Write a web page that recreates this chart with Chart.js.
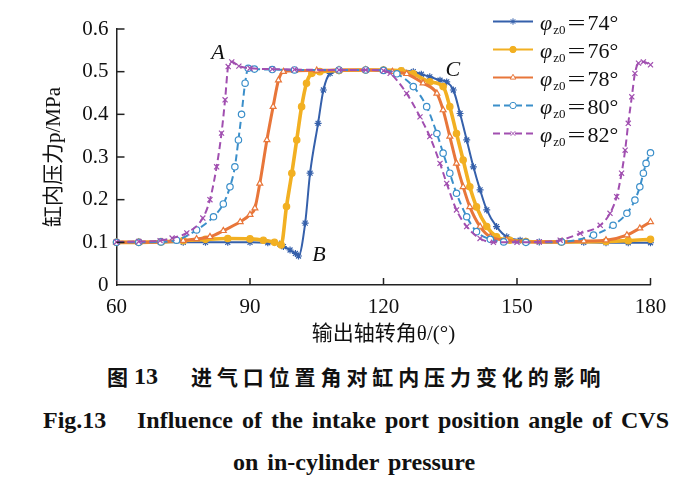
<!DOCTYPE html>
<html>
<head>
<meta charset="utf-8">
<script src="https://cdn.jsdelivr.net/npm/chart.js@4.4.1/dist/chart.umd.min.js"></script>
<style>
  html, body { margin:0; padding:0; background:#fff; }
  #wrap { position:relative; width:700px; height:478px; overflow:hidden; background:#fff; }
  #cv { position:absolute; left:0; top:0; }
  .cap { position:absolute; white-space:nowrap; color:#111; }
  .zh { font-family:'Noto Sans CJK SC', sans-serif; font-weight:700; font-size:21px; line-height:21px; }
  .en { font-family:'Liberation Serif', 'Times New Roman', serif; font-weight:700; font-size:24px; line-height:24px; }
</style>
</head>
<body>
<div id="wrap">
  <canvas id="cv" width="700" height="350"></canvas>
  <div class="cap zh" style="left:107px; top:366px;">图</div>
  <div class="cap en" style="left:134px; top:364px;">13</div>
  <div class="cap zh" style="left:191px; top:366px; letter-spacing:4.9px;">进气口位置角对缸内压力变化的影响</div>
  <div class="cap en" style="left:43px; top:408px;">Fig.13</div>
  <div class="cap en" style="left:137px; top:408px; word-spacing:3px;">Influence of the intake port position angle of CVS</div>
  <div class="cap en" style="left:233px; top:450px; word-spacing:3px;">on in-cylinder pressure</div>
</div>
<script>
// ---------- data ----------
const legendAngles = [74, 76, 78, 80, 82];

const theta74 = [60, 65, 70, 75, 80, 85, 90, 94, 96.7, 97.5, 99, 100.2, 100.9, 102.4, 103.5, 105.3, 106.5, 108, 110, 116, 120, 124, 126.7, 128.5, 130.4, 132.7, 134.2, 135.7, 137.2, 138.7, 140.2, 141.7, 143.2, 145.4, 147.7, 150.7, 155, 160, 165, 170, 175, 180];
const p74     = [0.100, 0.100, 0.100, 0.100, 0.100, 0.100, 0.100, 0.099, 0.096, 0.090, 0.082, 0.074, 0.068, 0.145, 0.262, 0.379, 0.457, 0.496, 0.502, 0.504, 0.504, 0.503, 0.500, 0.494, 0.488, 0.480, 0.476, 0.457, 0.402, 0.340, 0.277, 0.223, 0.176, 0.137, 0.113, 0.105, 0.101, 0.100, 0.100, 0.099, 0.099, 0.099];

const theta76 = [60, 65, 70, 75, 80, 85, 90, 93, 95.5, 97, 98.2, 99.4, 100.5, 101.6, 102.7, 103.9, 105.7, 110, 116, 120, 124, 126.7, 130.4, 133.4, 134.9, 136.4, 137.9, 139.4, 140.9, 143.2, 145.4, 148.4, 152, 160, 170, 175, 180];
const p76     = [0.100, 0.100, 0.101, 0.104, 0.107, 0.109, 0.108, 0.105, 0.100, 0.094, 0.184, 0.262, 0.340, 0.418, 0.473, 0.496, 0.500, 0.503, 0.504, 0.504, 0.502, 0.495, 0.476, 0.465, 0.418, 0.355, 0.293, 0.230, 0.183, 0.137, 0.113, 0.105, 0.102, 0.101, 0.102, 0.104, 0.107];

const theta78 = [60, 65, 70, 75, 78, 81, 84, 87.8, 90, 91.1, 92.2, 93.8, 95.2, 96.4, 97.5, 100, 105, 110, 116, 120, 122, 125.2, 128.9, 132, 133.4, 134.9, 136.4, 137.9, 139.4, 141.7, 144, 147.7, 152, 160, 165, 170, 174.7, 177.6, 180];
const p78     = [0.100, 0.100, 0.101, 0.104, 0.108, 0.113, 0.127, 0.148, 0.165, 0.180, 0.238, 0.340, 0.418, 0.480, 0.500, 0.502, 0.503, 0.504, 0.504, 0.503, 0.500, 0.495, 0.473, 0.449, 0.410, 0.348, 0.285, 0.230, 0.183, 0.137, 0.113, 0.105, 0.101, 0.101, 0.103, 0.105, 0.117, 0.133, 0.148];

const theta80 = [60, 65, 70, 73.5, 78, 81.8, 84, 85.5, 86.6, 87.4, 88.1, 88.9, 89.6, 91, 95, 100, 110, 116, 120, 123, 126.7, 129.7, 132, 133.4, 134.9, 136.4, 138.7, 140.9, 144, 147, 152, 160, 167.2, 171.6, 174.7, 176.5, 177.6, 178.4, 179, 180];
const p80     = [0.100, 0.100, 0.101, 0.105, 0.129, 0.160, 0.190, 0.230, 0.277, 0.340, 0.400, 0.473, 0.508, 0.506, 0.505, 0.504, 0.504, 0.504, 0.503, 0.495, 0.465, 0.418, 0.355, 0.309, 0.262, 0.215, 0.160, 0.125, 0.107, 0.101, 0.100, 0.101, 0.117, 0.140, 0.168, 0.199, 0.230, 0.262, 0.285, 0.310];

const theta82 = [60, 65, 69.8, 72.5, 75.8, 79.4, 81, 82.5, 83.6, 84.4, 85.1, 85.9, 87.5, 90, 95, 100, 110, 116, 120, 121.5, 125.2, 128.2, 130.4, 132.7, 134.2, 136.4, 138.7, 141.7, 144.7, 150, 155, 159.7, 164.2, 168.7, 170.9, 172.4, 173.5, 174.3, 175, 175.8, 176.5, 177.3, 178.4, 180];
const p82     = [0.101, 0.102, 0.104, 0.110, 0.122, 0.157, 0.200, 0.277, 0.356, 0.434, 0.512, 0.523, 0.513, 0.508, 0.506, 0.505, 0.504, 0.504, 0.502, 0.496, 0.449, 0.394, 0.348, 0.285, 0.238, 0.176, 0.137, 0.109, 0.100, 0.100, 0.101, 0.105, 0.121, 0.140, 0.168, 0.207, 0.262, 0.316, 0.379, 0.441, 0.496, 0.520, 0.523, 0.516];

const xTickStep = 30;
const yTickStep = 0.1;
const annoLabels = ['A', 'B', 'C'];
const annoX = [82.8, 105.5, 135.6];
const annoY = [0.544, 0.070, 0.504];

// ---------- chart ----------
const pts = (xs, ys) => xs.map((t, i) => ({ x: t, y: ys[i] }));
const serif = "'Liberation Serif', 'Noto Sans CJK SC', serif";

const seriesStyle = [
  { color: '#3560ab', width: 2,   dash: [],     style: 'star',     r: 3.5, bg: '#3560ab', order: 5 },
  { color: '#f2b022', width: 3.6, dash: [],     style: 'circle',   r: 3.2, bg: '#f2b022', order: 4 },
  { color: '#e8763a', width: 3,   dash: [],     style: 'triangle', r: 3.4, bg: '#ffffff', order: 3 },
  { color: '#3b8fca', width: 2,   dash: [7, 4], style: 'circle',   r: 3.2, bg: '#ffffff', order: 2 },
  { color: '#a14fb0', width: 2,   dash: [7, 4], style: 'crossRot', r: 3.6, bg: '#a14fb0', order: 1 }
];
const seriesData = [pts(theta74, p74), pts(theta76, p76), pts(theta78, p78), pts(theta80, p80), pts(theta82, p82)];

const datasets = seriesData.map((d, i) => {
  const s = seriesStyle[i];
  return {
    label: 'φz0=' + legendAngles[i] + '°',
    data: d,
    borderColor: s.color,
    backgroundColor: s.bg,
    pointBackgroundColor: s.bg,
    pointBorderColor: s.color,
    pointBorderWidth: 1.2,
    borderWidth: s.width,
    borderDash: s.dash,
    pointStyle: s.style,
    pointRadius: s.r,
    cubicInterpolationMode: 'monotone',
    order: s.order,
    clip: 8
  };
});

const inwardTicks = {
  id: 'inwardTicks',
  afterDraw(chart) {
    const { ctx, scales: { x, y }, chartArea: a } = chart;
    ctx.save();
    ctx.strokeStyle = '#222';
    ctx.lineWidth = 1.5;
    x.ticks.forEach(t => {
      if (t.value === x.min) return;
      const px = x.getPixelForValue(t.value);
      ctx.beginPath(); ctx.moveTo(px, a.bottom); ctx.lineTo(px, a.bottom - 7); ctx.stroke();
    });
    y.ticks.forEach(t => {
      if (t.value === y.min) return;
      const py = y.getPixelForValue(t.value);
      ctx.beginPath(); ctx.moveTo(a.left, py); ctx.lineTo(a.left + 8, py); ctx.stroke();
    });
    ctx.restore();
  }
};

const annotations = {
  id: 'annotations',
  afterDraw(chart) {
    const { ctx, scales: { x, y } } = chart;
    ctx.save();
    ctx.fillStyle = '#111';
    ctx.font = "italic 22px 'Liberation Serif', serif";
    ctx.textAlign = 'center';
    ctx.textBaseline = 'middle';
    annoLabels.forEach((l, i) => ctx.fillText(l, x.getPixelForValue(annoX[i]), y.getPixelForValue(annoY[i])));
    ctx.restore();
  }
};

function drawMarker(ctx, style, r, cx, cy) {
  if (Chart.helpers && Chart.helpers.drawPoint) {
    Chart.helpers.drawPoint(ctx, { pointStyle: style, radius: r, borderWidth: 1, rotation: 0 }, cx, cy);
  } else {
    ctx.beginPath(); ctx.arc(cx, cy, r, 0, Math.PI * 2); ctx.fill(); ctx.stroke();
  }
}

const customLegend = {
  id: 'customLegend',
  afterDraw(chart) {
    const ctx = chart.ctx;
    ctx.save();
    chart.data.datasets.forEach((ds, i) => {
      const s = seriesStyle[i];
      const cy = 21.5 + 28 * i;
      ctx.strokeStyle = s.color;
      ctx.lineWidth = Math.min(s.width, 2);
      ctx.setLineDash(s.dash);
      ctx.beginPath(); ctx.moveTo(493, cy); ctx.lineTo(533, cy); ctx.stroke();
      ctx.setLineDash([]);
      ctx.fillStyle = s.bg;
      ctx.strokeStyle = s.color;
      ctx.lineWidth = 1;
      drawMarker(ctx, s.style, Math.min(s.r, 3.2), 513, cy);
      // text
      ctx.fillStyle = '#111';
      ctx.textBaseline = 'alphabetic';
      ctx.textAlign = 'left';
      const base = cy + 8;
      let tx = 540;
      ctx.font = "italic 22px 'Liberation Serif', serif";
      ctx.fillText('φ', tx, base);
      tx += ctx.measureText('φ').width + 1;
      ctx.font = "13px 'Liberation Serif', serif";
      ctx.fillText('z0', tx, base + 4);
      tx += ctx.measureText('z0').width + 2;
      ctx.font = "22px 'Liberation Serif', serif";
      ctx.save();
      ctx.translate(tx, base);
      ctx.scale(1.45, 1);
      ctx.fillText('=', 0, 0);
      ctx.restore();
      tx += ctx.measureText('=').width * 1.45 + 2;
      ctx.fillText(legendAngles[i] + '°', tx, base);
    });
    ctx.restore();
  }
};

new Chart(document.getElementById('cv'), {
  type: 'line',
  data: { datasets },
  options: {
    responsive: false,
    animation: false,
    devicePixelRatio: 1,
    layout: { padding: { left: 0, right: 49.5, top: 29, bottom: 0 } },
    plugins: { legend: { display: false }, tooltip: { enabled: false } },
    scales: {
      x: {
        type: 'linear', min: 60, max: 180,
        afterFit: s => { s.height = 65; },
        ticks: { stepSize: xTickStep, color: '#111', padding: 10, font: { family: serif, size: 21 }, maxRotation: 0 },
        grid: { drawOnChartArea: false, drawTicks: false },
        border: { display: true, color: '#222', width: 1.5 },
        title: { display: true, text: '输出轴转角θ/(°)', color: '#111', font: { family: serif, size: 21 }, padding: { top: 0, bottom: 3.4 } }
      },
      y: {
        type: 'linear', min: 0, max: 0.6,
        afterFit: s => { s.width = 116.5; },
        ticks: { stepSize: yTickStep, color: '#111', padding: 8, font: { family: serif, size: 21 },
                 callback: v => (Math.abs(v) < 1e-9 ? '0' : Number(v).toFixed(1)) },
        grid: { drawOnChartArea: false, drawTicks: false },
        border: { display: true, color: '#222', width: 1.5 },
        title: { display: true, text: '缸内压力p/MPa', color: '#111', font: { family: serif, size: 21 }, padding: { top: 42, bottom: 0 } }
      }
    }
  },
  plugins: [inwardTicks, annotations, customLegend]
});
</script>
</body>
</html>
